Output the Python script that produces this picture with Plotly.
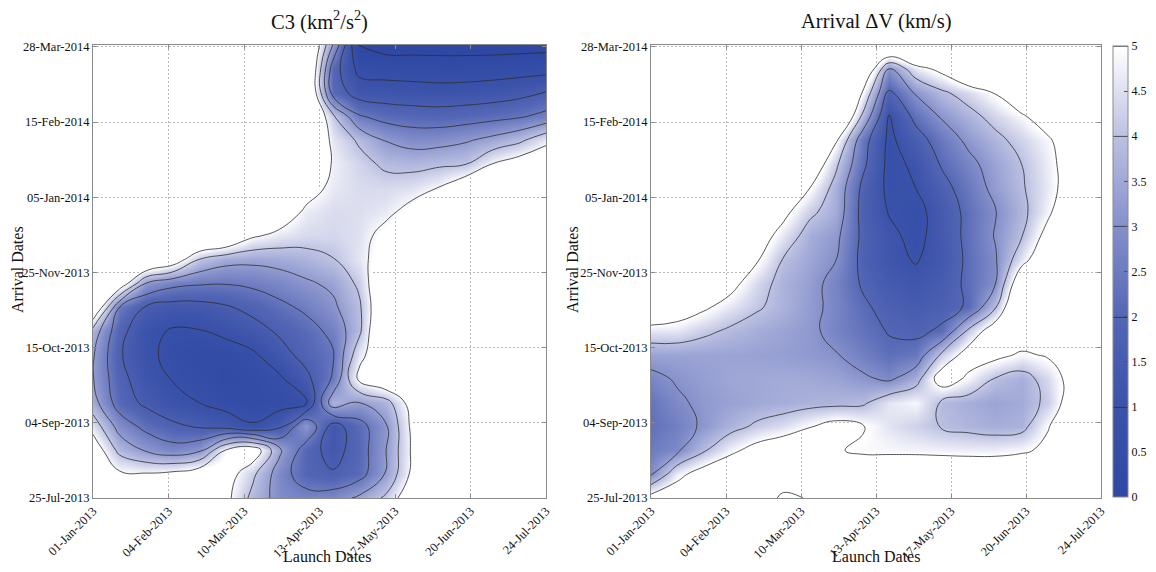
import plotly.graph_objects as go
import pandas as pd

# ---- sampling grid (launch every 12 days, arrival every 13 days) ----
launch_dates = pd.date_range('2013-01-01', periods=18, freq='12D')
arrival_dates = pd.date_range('2013-07-25', periods=20, freq='13D')

launch_ticks = ['2013-01-01', '2013-02-04', '2013-03-10', '2013-04-13', '2013-05-17', '2013-06-20', '2013-07-24']
launch_tick_labels = ['01-Jan-2013', '04-Feb-2013', '10-Mar-2013', '13-Apr-2013', '17-May-2013', '20-Jun-2013', '24-Jul-2013']
arrival_ticks = ['2013-07-25', '2013-09-04', '2013-10-15', '2013-11-25', '2014-01-05', '2014-02-15', '2014-03-28']
arrival_tick_labels = ['25-Jul-2013', '04-Sep-2013', '15-Oct-2013', '25-Nov-2013', '05-Jan-2014', '15-Feb-2014', '28-Mar-2014']

# ---- C3 field (contour-level units) ----
c3 = [
    [8.0, 7.5, 7.3, 7.4, 7.3, 6.3, 4.7, 3.6, 3.4, 3.5, 4.2, 5.2, 7.0, 8.0, 8.0, 8.0, 8.0, 8.0],
    [7.0, 6.2, 6.1, 6.3, 6.8, 6.6, 5.2, 3.5, 2.4, 2.1, 2.6, 4.1, 6.3, 7.5, 8.0, 8.0, 8.0, 8.0],
    [6.8, 4.7, 3.9, 3.4, 3.8, 6.1, 6.8, 4.2, 2.5, 1.6, 2.5, 4.0, 6.2, 7.5, 8.0, 8.0, 8.0, 8.0],
    [5.6, 3.6, 2.7, 2.2, 1.9, 1.65, 1.1, 1.8, 3.9, 1.6, 2.6, 3.9, 6.3, 7.5, 8.0, 8.0, 8.0, 8.0],
    [4.4, 2.5, 1.8, 1.3, 1.0, 0.6, 0.5, 0.6, 0.9, 4.6, 4.0, 4.6, 6.6, 7.5, 8.0, 8.0, 8.0, 8.0],
    [4.05, 2.3, 1.45, 0.95, 0.6, 0.4, 0.5, 0.85, 1.75, 3.1, 6.3, 7.2, 7.5, 8.0, 8.0, 8.0, 8.0, 8.0],
    [4.1, 2.1, 1.25, 0.7, 0.45, 0.5, 0.85, 1.6, 2.35, 2.9, 5.7, 7.0, 8.0, 8.0, 8.0, 8.0, 8.0, 8.0],
    [4.6, 2.3, 1.3, 0.9, 0.95, 1.25, 1.6, 2.15, 2.6, 3.25, 4.8, 8.0, 8.0, 8.0, 8.0, 8.0, 8.0, 8.0],
    [7.5, 3.0, 1.9, 1.6, 1.65, 1.9, 2.3, 2.75, 3.2, 3.8, 4.85, 7.5, 8.0, 8.0, 8.0, 8.0, 8.0, 8.0],
    [8.0, 6.9, 3.95, 3.3, 3.1, 3.05, 3.2, 3.5, 3.85, 4.2, 5.2, 7.5, 8.0, 8.0, 8.0, 8.0, 8.0, 8.0],
    [8.0, 8.0, 7.8, 6.8, 4.95, 4.35, 4.25, 4.35, 4.6, 4.95, 5.7, 6.6, 8.0, 8.0, 8.0, 8.0, 8.0, 8.0],
    [8.0, 8.0, 8.0, 8.0, 8.0, 7.5, 6.15, 5.7, 5.45, 5.4, 5.6, 6.4, 7.5, 8.0, 8.0, 8.0, 8.0, 8.0],
    [8.0, 8.0, 8.0, 8.0, 8.0, 8.0, 8.0, 6.8, 5.8, 5.5, 5.55, 5.75, 6.4, 7.5, 8.0, 8.0, 8.0, 8.0],
    [8.0, 8.0, 8.0, 8.0, 8.0, 8.0, 8.0, 8.0, 6.5, 5.75, 5.5, 5.45, 5.6, 6.05, 7.0, 8.0, 8.0, 8.0],
    [8.0, 8.0, 8.0, 8.0, 8.0, 8.0, 8.0, 8.0, 7.5, 5.9, 5.35, 4.8, 4.7, 4.85, 5.0, 6.05, 6.6, 6.9],
    [8.0, 8.0, 8.0, 8.0, 8.0, 8.0, 8.0, 8.0, 8.0, 5.7, 4.85, 3.95, 3.6, 3.65, 3.9, 4.3, 4.8, 5.75],
    [8.0, 8.0, 8.0, 8.0, 8.0, 8.0, 8.0, 8.0, 8.0, 5.2, 3.1, 2.65, 2.5, 2.45, 2.55, 2.7, 2.9, 3.3],
    [8.0, 8.0, 8.0, 8.0, 8.0, 8.0, 8.0, 8.0, 8.0, 2.6, 1.55, 1.45, 1.4, 1.35, 1.4, 1.5, 1.7, 2.05],
    [8.0, 8.0, 8.0, 8.0, 8.0, 8.0, 8.0, 8.0, 8.0, 2.5, 0.7, 0.6, 0.55, 0.5, 0.5, 0.55, 0.6, 0.65],
    [8.0, 8.0, 8.0, 8.0, 8.0, 8.0, 8.0, 8.0, 8.0, 4.0, -0.2, -0.4, -0.4, -0.4, -0.4, -0.4, -0.35, -0.3],
]

# ---- Arrival dV field (km/s) ----
dv = [
    [5.4, 5.7, 6.0, 6.0, 5.5, 4.85, 5.05, 5.8, 6.2, 6.3, 6.4, 6.4, 6.4, 6.4, 6.5, 6.6, 6.8, 7.0],
    [2.9, 4.7, 5.5, 6.0, 5.9, 5.5, 5.6, 5.5, 5.5, 5.7, 5.9, 5.9, 5.9, 5.9, 6.0, 6.2, 6.5, 6.8],
    [2.5, 2.85, 3.9, 4.75, 5.4, 5.8, 5.8, 5.05, 4.9, 4.85, 4.8, 4.75, 4.7, 4.7, 4.85, 5.2, 5.8, 6.3],
    [2.25, 2.6, 3.15, 3.7, 4.15, 4.45, 4.95, 5.4, 5.05, 4.55, 4.25, 3.95, 3.75, 3.6, 3.7, 4.95, 5.8, 6.3],
    [2.35, 2.85, 3.2, 3.35, 3.5, 3.6, 3.7, 3.75, 3.85, 4.6, 4.85, 3.85, 3.6, 3.4, 3.55, 4.2, 5.8, 6.3],
    [2.75, 3.1, 3.3, 3.45, 3.5, 3.55, 3.5, 3.4, 3.15, 2.85, 3.6, 5.6, 4.8, 3.95, 3.6, 4.4, 5.5, 6.0],
    [3.4, 3.4, 3.4, 3.4, 3.35, 3.3, 3.2, 3.05, 2.6, 2.2, 2.4, 4.2, 5.5, 5.3, 4.85, 5.1, 5.6, 6.1],
    [4.6, 4.6, 4.2, 3.85, 3.6, 3.4, 3.2, 2.7, 2.3, 1.95, 1.8, 2.15, 4.2, 5.7, 5.8, 5.8, 6.0, 6.3],
    [6.2, 5.6, 5.15, 4.6, 4.1, 3.7, 3.25, 2.75, 2.15, 1.7, 1.5, 1.7, 2.1, 3.9, 6.8, 6.5, 6.5, 6.8],
    [7.0, 6.5, 5.8, 5.35, 4.4, 3.7, 3.3, 2.7, 1.9, 1.4, 1.2, 1.5, 2.2, 2.95, 6.0, 6.5, 6.8, 7.0],
    [7.5, 7.0, 6.5, 5.8, 5.1, 3.95, 3.45, 3.0, 1.75, 1.2, 0.95, 1.3, 2.2, 2.9, 4.6, 6.0, 6.5, 7.0],
    [8.0, 7.5, 7.0, 6.4, 5.6, 4.6, 3.6, 3.2, 1.8, 1.2, 0.75, 1.4, 2.25, 3.05, 3.95, 5.4, 6.3, 7.0],
    [8.0, 8.0, 7.5, 7.0, 6.2, 5.3, 4.2, 3.55, 1.7, 0.95, 0.7, 1.45, 2.25, 2.95, 3.75, 4.8, 6.2, 7.0],
    [8.0, 8.0, 8.0, 7.5, 6.8, 6.0, 5.0, 3.65, 1.8, 0.8, 1.0, 1.7, 2.45, 3.25, 3.9, 4.65, 5.6, 6.8],
    [8.0, 8.0, 8.0, 8.0, 8.0, 7.0, 6.0, 4.15, 2.2, 0.75, 1.15, 2.1, 2.75, 3.4, 4.0, 4.7, 5.6, 6.8],
    [8.0, 8.0, 8.0, 8.0, 8.0, 8.0, 7.2, 5.1, 2.4, 0.8, 1.6, 2.45, 3.2, 3.75, 4.3, 4.85, 5.8, 7.0],
    [8.0, 8.0, 8.0, 8.0, 8.0, 8.0, 8.0, 7.0, 3.8, 0.95, 2.25, 3.1, 3.7, 4.3, 4.85, 5.6, 6.5, 7.5],
    [8.0, 8.0, 8.0, 8.0, 8.0, 8.0, 8.0, 8.0, 4.9, 1.8, 3.1, 3.85, 4.4, 5.05, 6.0, 7.0, 7.5, 8.0],
    [8.0, 8.0, 8.0, 8.0, 8.0, 8.0, 8.0, 8.0, 6.5, 3.0, 4.6, 5.3, 6.5, 7.5, 8.0, 8.0, 8.0, 8.0],
    [8.0, 8.0, 8.0, 8.0, 8.0, 8.0, 8.0, 8.0, 8.0, 7.0, 7.5, 8.0, 8.0, 8.0, 8.0, 8.0, 8.0, 8.0],
]

colorscale = [
    [0.0, 'rgb(46,72,164)'],
    [0.2, 'rgb(58,82,170)'],
    [0.4, 'rgb(84,102,181)'],
    [0.6, 'rgb(133,144,203)'],
    [0.8, 'rgb(188,193,226)'],
    [0.9, 'rgb(222,224,240)'],
    [0.985, 'rgb(252,252,254)'],
    [1.0, 'rgba(255,255,255,0)'],
]

FONT = 'Liberation Serif'
line_style = dict(color='rgb(45,45,45)', width=0.8, smoothing=1.3)

# page body has an 8px margin, so the figure is drawn 8px in from the window edge
OFF = 8
W, H = 1156 - OFF, 572 - OFF


def px(x):
    return (x - OFF) / W


def py(y):
    return (H - (y - OFF)) / H


fig = go.Figure()
fig.add_trace(go.Contour(
    x=launch_dates, y=arrival_dates, z=c3,
    colorscale=colorscale, zmin=0, zmax=6.2, zauto=False,
    contours=dict(start=0, end=6, size=1, coloring='heatmap', showlines=True),
    line=line_style, showscale=False, xaxis='x', yaxis='y', hoverinfo='skip'))
fig.add_trace(go.Contour(
    x=launch_dates, y=arrival_dates, z=dv,
    colorscale=colorscale, zmin=0, zmax=5, zauto=False,
    contours=dict(start=1, end=5, size=1, coloring='heatmap', showlines=True),
    line=line_style, xaxis='x2', yaxis='y2', hoverinfo='skip',
    colorbar=dict(x=px(1113), xanchor='left', xref='paper',
                  y=py(497), yanchor='bottom', yref='paper',
                  len=451 / H, lenmode='fraction', thickness=15, xpad=0, ypad=0,
                  outlinecolor='#8a8a8a', outlinewidth=1,
                  tickvals=[0, 0.5, 1, 1.5, 2, 2.5, 3, 3.5, 4, 4.5, 5],
                  ticktext=['0', '0.5', '1', '1.5', '2', '2.5', '3', '3.5', '4', '4.5', '5'],
                  ticks='inside', ticklen=4, tickcolor='#555',
                  tickfont=dict(family=FONT, size=12, color='#111'))))

ydom = [py(498), py(45)]
common_x = dict(type='date', range=['2013-01-01', '2013-07-24'], tickvals=launch_ticks,
                ticktext=launch_tick_labels, tickangle=-45, automargin=False,
                tickfont=dict(family=FONT, size=12.5, color='#111'),
                showgrid=True, gridcolor='#b8b8b8', griddash='2px,2px', gridwidth=1,
                showline=True, linecolor='#8a8a8a', linewidth=1, mirror='ticks',
                ticks='inside', ticklen=4, tickcolor='#8a8a8a', zeroline=False)
common_y = dict(type='date', range=['2013-07-25', '2014-03-29'], tickvals=arrival_ticks,
                ticktext=arrival_tick_labels, automargin=False,
                tickfont=dict(family=FONT, size=12.5, color='#111'),
                showgrid=True, gridcolor='#b8b8b8', griddash='2px,2px', gridwidth=1,
                showline=True, linecolor='#8a8a8a', linewidth=1, mirror='ticks',
                ticks='inside', ticklen=4, tickcolor='#8a8a8a', zeroline=False)

fig.update_layout(
    width=W, height=H, margin=dict(l=0, r=0, t=0, b=0, autoexpand=False),
    paper_bgcolor='white', plot_bgcolor='white', showlegend=False,
    xaxis=dict(common_x, domain=[px(93), px(546)], anchor='y'),
    yaxis=dict(common_y, domain=ydom, anchor='x'),
    xaxis2=dict(common_x, domain=[px(651), px(1101)], anchor='y2'),
    yaxis2=dict(common_y, domain=ydom, anchor='x2'),
)

ann = [
    dict(text='C3 (km<sup>2</sup>/s<sup>2</sup>)', x=px(319.5), y=py(20)),
    dict(text='Arrival \u0394V (km/s)', x=px(876), y=py(21)),
]
for a in ann:
    a.update(xref='paper', yref='paper', xanchor='center', yanchor='middle', showarrow=False,
             font=dict(family=FONT, size=20.5, color='#111'))
labels = [
    dict(text='Launch Dates', x=px(327), y=py(556), textangle=0),
    dict(text='Launch Dates', x=px(876), y=py(556), textangle=0),
    dict(text='Arrival Dates', x=px(18), y=py(270), textangle=-90),
    dict(text='Arrival Dates', x=px(573), y=py(270), textangle=-90),
]
for a in labels:
    a.update(xref='paper', yref='paper', xanchor='center', yanchor='middle', showarrow=False,
             font=dict(family=FONT, size=16, color='#111'))
fig.update_layout(annotations=ann + labels)

fig.write_html('out.html')
